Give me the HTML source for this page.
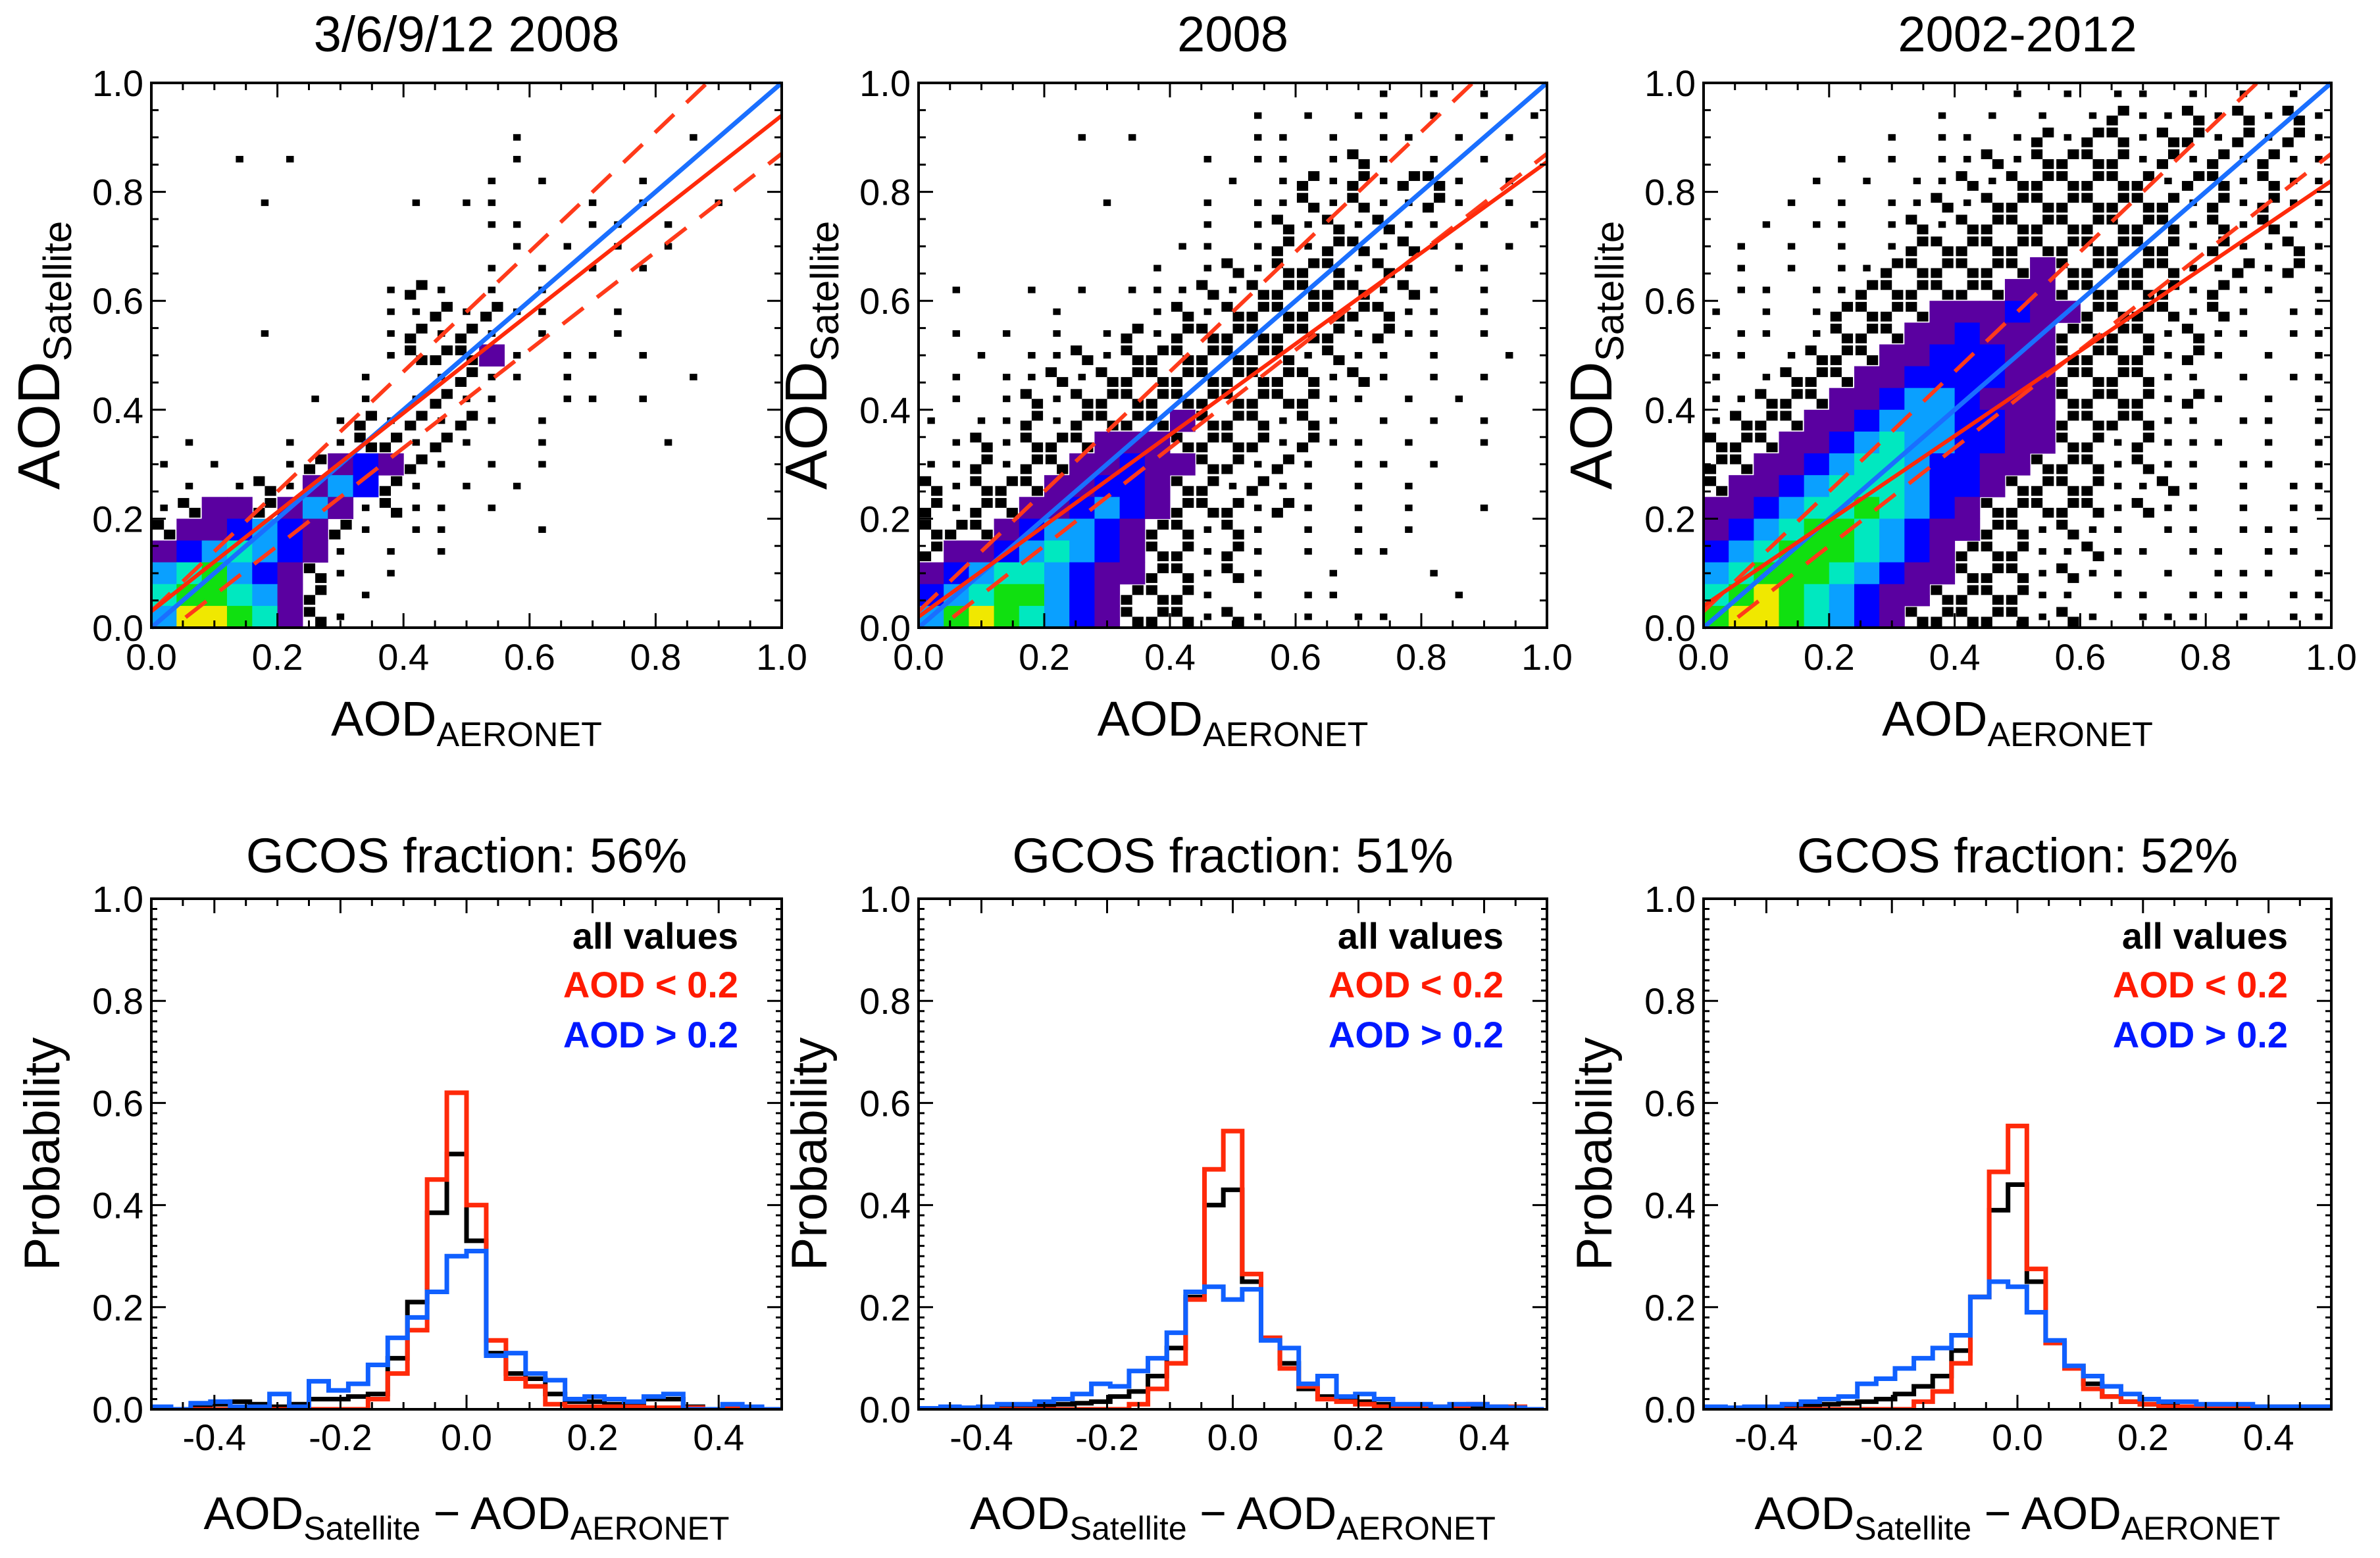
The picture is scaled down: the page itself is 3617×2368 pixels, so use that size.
<!DOCTYPE html>
<html><head><meta charset="utf-8"><style>
html,body{margin:0;padding:0;background:#fff}
svg{display:block}
text{font-family:"Liberation Sans",sans-serif;fill:#000}
</style></head><body>
<svg id="fig" width="3617" height="2368" viewBox="0 0 3617 2368" xmlns="http://www.w3.org/2000/svg"></svg>
<script>
// ---------- DATA ----------
const scatterTitles = ["3/6/9/12 2008", "2008", "2002-2012"];
const histTitles = ["GCOS fraction: 56%", "GCOS fraction: 51%", "GCOS fraction: 52%"];
const scatterTicks = [0.0, 0.2, 0.4, 0.6, 0.8, 1.0];
const scatterTickLabels = ["0.0", "0.2", "0.4", "0.6", "0.8", "1.0"];
const histXTicks = [-0.4, -0.2, 0.0, 0.2, 0.4];
const histXTickLabels = ["-0.4", "-0.2", "0.0", "0.2", "0.4"];
const histYTicks = [0.0, 0.2, 0.4, 0.6, 0.8, 1.0];
const histYTickLabels = ["0.0", "0.2", "0.4", "0.6", "0.8", "1.0"];
const fitIntercept = [0.03, 0.02, 0.04];
const fitAtOne = [0.94, 0.855, 0.82];
const envSlopeUp = 1.1, envSlopeLo = 0.9, envOffset = 0.03;

// density grids (rows top->bottom, 25 cols of 0.04), levels 0..7, '.' sparse
const densityLeft = [
"0000000000000000000000000",
"0000000000000000000000000",
"00000000000000.000000.000",
"000.0.00000000.0000000000",
"0000000000000.0.000.00000",
"0000.00000.0..000.0.00.00",
"0000000000000..00..0.0000",
"00000000000000.0.0.0.0000",
"0000000000000.0.0.0.00000",
"000000000.1.0.0.000000000",
"000000000..1.1..00.000000",
"0000.0000.1.1.0.00.000000",
"000000000.1112.0..0.00000",
"00000000.00.1..0.0000.000",
"000000.0.0.1..00..0.00000",
"0000000.1.1.1.0.000000000",
"0.000.0.11.1.00.0000.0000",
".0.00.12321.0.0.000000000",
"0.0.1.2431.0.0.0000000000",
".1221242.1..0.00000000000",
"12234321.0..000.000000000",
"2345432.0.0.0000000000000",
"4564321.0.000000000000000",
"56654210.0000000000000000",
"4776521.00000000000000000"];
const densityMid = [
"000000000000000000.0.0.00",
"0000000000000.0.0..0.0.0.",
"000000.0.0000..0.0..0.0.0",
"00000000000.0..0.1.0.0.00",
"000000000000.0.1.1.11.0.0",
"0000000.000.0..1.1..1.0.0",
"00000000000.0.1.1.1..0.0.",
"0000000000..0.1.11.1..0.0",
"000000000.0.1.111.1.0..00",
"0.00.0.0...1.11111.1.0.00",
"00000.000.1.1111111..0.00",
"0.0.0.0.1.1111111.1..0.00",
"00.0..1.1111111.1..0.00.0",
"0.0..1.111111111.1.0.0.00",
"0.0.1.1111111111..0.0.000",
".0..1.11112111.1.0.0.0.00",
"0.1.1112221111.1..0.00.00",
"..1.112232211.1.0..0.0000",
"1.1112233211.1..0.0.00000",
"1.11223432111.1.0.0.00.00",
"11123443211.1.0.0.0.00000",
"12234543211.1.0.0..000000",
"23455432211.1.00.000.0000",
"34566432111.0.0..0000.000",
"46765432111.1.0.0..000000"];
const densityRight = [
"000000000000.0.0..0.0.0.0",
"000000000.0.0.0.1..1.1.1.",
"0000000.0..0.1.11.11.1.1.",
"00000.0.0..1.1111.1.1.1..",
"0000.0.0..1.111111.11.1..",
"000.0.0..1.11111111.1.1..",
"00.0..0.1.111111111.1.1..",
"0.0.0.0.11111111111.1..1.",
"0.0.0..111111211111..1.1.",
"0..0..1111112211111.1..0.",
".0.0.11112223221111.1.0..",
"0..0.1112232221111.1..0..",
"..0.11122333221111.1.0.0.",
".0.111223333221111..0.0..",
"..1112234432221111.1.0.0.",
".11122344433221111..0..0.",
"1112234544332211.1...0.0.",
"1122345543322111.1..0..0.",
"1223455543321111..1.0.0..",
"2234556543211111.1..0.0..",
"2345665432211.1..0..0...0",
"3456665432111..1..0..0..0",
"4566654322111.1..0.0...0.",
"5676543221111..0..0...0..",
"6776543211111.1.0...0.0.."];

// histograms
const histLeftBinStart = -0.5, histLeftBinWidth = 0.03125;
const histLeftAll  = [0,0,0.005,0.01,0.015,0.01,0.005,0.01,0.02,0.02,0.025,0.03,0.10,0.21,0.385,0.50,0.33,0.11,0.07,0.06,0.03,0.015,0.015,0.01,0.01,0.02,0.02,0.005,0,0.005,0,0];
const histLeftLow  = [0,0,0,0,0,0,0,0,0,0,0,0.02,0.07,0.155,0.45,0.62,0.40,0.135,0.06,0.045,0.01,0.005,0.005,0.005,0.005,0.003,0.003,0.003,0,0.005,0.003,0];
const histLeftHigh = [0.005,0,0.012,0.015,0.005,0.005,0.03,0.005,0.055,0.037,0.05,0.087,0.14,0.18,0.23,0.30,0.31,0.105,0.11,0.07,0.057,0.02,0.025,0.02,0.015,0.025,0.03,0,0,0.01,0.005,0];
const histBinStart = -0.495, histBinWidth = 0.03;
const histMidAll  = [0,0,0,0.002,0.005,0.005,0.008,0.01,0.012,0.015,0.025,0.035,0.065,0.12,0.22,0.40,0.43,0.25,0.14,0.09,0.04,0.025,0.02,0.015,0.01,0.005,0.005,0.005,0.005,0.005,0.005,0.003,0];
const histMidLow  = [0,0,0,0,0,0,0,0,0,0,0,0.01,0.04,0.09,0.215,0.47,0.545,0.265,0.14,0.08,0.045,0.02,0.015,0.01,0.005,0.005,0.005,0.005,0.005,0.01,0.005,0.005,0];
const histMidHigh = [0.002,0.005,0.003,0.005,0.01,0.01,0.015,0.02,0.03,0.05,0.045,0.075,0.10,0.15,0.23,0.24,0.215,0.235,0.135,0.12,0.05,0.065,0.025,0.03,0.02,0.01,0.01,0.005,0.01,0.01,0.005,0.003,0];
const histRightAll  = [0,0,0.002,0.003,0.005,0.008,0.01,0.012,0.015,0.02,0.03,0.045,0.065,0.115,0.22,0.39,0.44,0.25,0.13,0.085,0.05,0.025,0.015,0.01,0.008,0.005,0.005,0.005,0.005,0.005,0.005,0.005,0.005];
const histRightLow  = [0,0,0,0,0,0,0,0,0,0,0,0.015,0.035,0.09,0.22,0.465,0.555,0.275,0.13,0.08,0.04,0.025,0.015,0.01,0.005,0.005,0.003,0.003,0.003,0.003,0.003,0.003,0.003];
const histRightHigh = [0.005,0.003,0.005,0.005,0.01,0.015,0.02,0.025,0.05,0.06,0.08,0.10,0.12,0.145,0.22,0.25,0.24,0.19,0.135,0.085,0.065,0.045,0.03,0.02,0.015,0.015,0.01,0.01,0.01,0.005,0.005,0.005,0.005];

// ---------- DRAW ----------
const NS = "http://www.w3.org/2000/svg";
const svg = document.getElementById("fig");
function el(tag, attrs, parent) {
  const e = document.createElementNS(NS, tag);
  for (const k in attrs) e.setAttribute(k, attrs[k]);
  (parent || svg).appendChild(e);
  return e;
}
const panelX = [[230,1188],[1396,2351],[2589,3543]];
const topY = [126, 954];
const botY = [1366, 2142];
const levelColors = ["none","#000000","#5a00a0","#0000ff","#0aa0ff","#00e8c0","#10e010","#f0e800"];
const densities = [densityLeft, densityMid, densityRight];
const histSets = [
  [histLeftAll, histLeftLow, histLeftHigh, histLeftBinStart, histLeftBinWidth],
  [histMidAll, histMidLow, histMidHigh, histBinStart, histBinWidth],
  [histRightAll, histRightLow, histRightHigh, histBinStart, histBinWidth]];

function addText(str, attrs, name, parent) {
  const t = el("text", attrs, parent);
  t.textContent = str;
  
  
  return t;
}
function subText(parts, attrs, name) {
  const t = el("text", attrs);
  
  
  parts.forEach(p => {
    const s = el("tspan", {}, t);
    if (p.sub) { s.setAttribute("font-size", p.sub); s.setAttribute("dy", p.dy); }
    else if (p.dy) { s.setAttribute("dy", p.dy); }
    s.textContent = p.t;
  });
  return t;
}

for (let p = 0; p < 3; p++) {
  const [L, R] = panelX[p];
  const W = R - L;
  const cx = (L + R) / 2;
  // ---------- scatter panel ----------
  {
    const [T, B] = topY;
    const H = B - T;
    const xs = v => L + v * W;
    const ys = v => B - v * H;
    const g = el("g", {});
    
    
    const clip = el("clipPath", {id: "cs" + p});
    el("rect", {x: L, y: T, width: W, height: H}, clip);
    const dg = el("g", {"clip-path": "url(#cs" + p + ")"}, g);
    
    
    const grid = densities[p];
    const nr = grid.length;
    grid.forEach((row, r) => {
      const nc = row.length;
      for (let c = 0; c < nc; c++) {
        const ch = row[c];
        if (ch === "0") continue;
        const x0 = xs(c / nc), x1 = xs((c + 1) / nc);
        const y0 = ys(1 - r / nr), y1 = ys(1 - (r + 1) / nr);
        const cw = x1 - x0, chh = y1 - y0;
        if (ch === ".") {
          const w = cw * 0.3, h = chh * 0.3;
          const rc = el("rect", {x: (x0 + x1) / 2 - w / 2, y: (y0 + y1) / 2 - h / 2, width: w, height: h, fill: "#000"}, dg);
          
          
        } else if (ch === "1") {
          const pts = ((r + c) % 2 === 0) ? [[0.05, 0.05], [0.5, 0.5]] : [[0.5, 0.05], [0.05, 0.5]];
          pts.forEach(([fx, fy]) => {
            const rc = el("rect", {x: x0 + fx * cw, y: y0 + fy * chh, width: cw * 0.45, height: chh * 0.45, fill: "#000"}, dg);
            
            
          });
        } else {
          const rc = el("rect", {x: x0, y: y0, width: cw + 0.5, height: chh + 0.5, fill: levelColors[+ch]}, dg);
          
          
        }
      }
    });
    const eu = el("line", {x1: xs(0), y1: ys(envOffset), x2: xs(1), y2: ys(envSlopeUp + envOffset), stroke: "#ff3a1a", "stroke-width": 6, "stroke-dasharray": "40 26", "clip-path": "url(#cs" + p + ")"}, g);
    
    
    const elo = el("line", {x1: xs(0), y1: ys(-envOffset), x2: xs(1), y2: ys(envSlopeLo - envOffset), stroke: "#ff3a1a", "stroke-width": 6, "stroke-dasharray": "40 26", "clip-path": "url(#cs" + p + ")"}, g);
    
    
    const oneone = el("line", {x1: xs(0), y1: ys(0), x2: xs(1), y2: ys(1), stroke: "#1a6fff", "stroke-width": 7}, g);
    
    
    const fit = el("line", {x1: xs(0), y1: ys(fitIntercept[p]), x2: xs(1), y2: ys(fitAtOne[p]), stroke: "#ff2a0a", "stroke-width": 6}, g);
    
    
    const fr = el("rect", {x: L, y: T, width: W, height: H, fill: "none", stroke: "#000", "stroke-width": 4}, g);
    
    
    let d = "";
    for (let i = 0; i <= 20; i++) {
      const v = i * 0.05, len = (i % 4 === 0) ? 22 : 11;
      d += `M${xs(v)},${B}v${-len}M${xs(v)},${T}v${len}M${L},${ys(v)}h${len}M${R},${ys(v)}h${-len}`;
    }
    const tk = el("path", {d: d, stroke: "#000", "stroke-width": 3, fill: "none"}, g);
    
    
    scatterTicks.forEach((v, i) => {
      addText(scatterTickLabels[i], {x: xs(v), y: 1018, "font-size": 56, "text-anchor": "middle"}, "x-tick-label", g);
      addText(scatterTickLabels[i], {x: L - 12, y: ys(v) + 20, "font-size": 56, "text-anchor": "end"}, "y-tick-label", g);
    });
    addText(scatterTitles[p], {x: cx, y: 78, "font-size": 76, "text-anchor": "middle"}, "scatter-title", g);
    subText([{t: "AOD"}, {t: "AERONET", sub: 52, dy: 16}], {x: cx, y: 1118, "font-size": 74, "text-anchor": "middle"}, "x-axis-title");
    subText([{t: "AOD"}, {t: "Satellite", sub: 60, dy: 18}], {x: 0, y: 0, "font-size": 90, "text-anchor": "middle", transform: `translate(${L - 140},${(T + B) / 2}) rotate(-90)`}, "y-axis-title");
  }
  // ---------- histogram panel ----------
  {
    const [T, B] = botY;
    const H = B - T;
    const xs = v => L + (v + 0.5) * W;
    const ys = v => B - v * H;
    const g = el("g", {});
    
    
    const clip = el("clipPath", {id: "ch" + p});
    el("rect", {x: L, y: T, width: W, height: H}, clip);
    const [hAll, hLow, hHigh, bs, bw] = histSets[p];
    const series = [[hAll, "#000000", "hist-all-values"], [hLow, "#ff2a0a", "hist-aod-below-0.2"], [hHigh, "#1060ff", "hist-aod-above-0.2"]];
    series.forEach(([vals, col, nm]) => {
      let d = `M${xs(bs)},${ys(0)}`;
      vals.forEach((v, i) => {
        d += `L${xs(bs + i * bw)},${ys(v)}L${xs(bs + (i + 1) * bw)},${ys(v)}`;
      });
      d += `L${xs(bs + vals.length * bw)},${ys(0)}`;
      const path = el("path", {d: d, fill: "none", stroke: col, "stroke-width": 7, "clip-path": "url(#ch" + p + ")"}, g);
      
      
    });
    const fr = el("rect", {x: L, y: T, width: W, height: H, fill: "none", stroke: "#000", "stroke-width": 4}, g);
    
    
    let d = "";
    for (let i = 0; i <= 20; i++) {
      const v = -0.5 + i * 0.05, len = (i % 4 === 2) ? 22 : 11;
      d += `M${xs(v)},${B}v${-len}M${xs(v)},${T}v${len}`;
    }
    for (let i = 0; i <= 50; i++) {
      const v = i * 0.02, len = (i % 10 === 0) ? 22 : 9;
      d += `M${L},${ys(v)}h${len}M${R},${ys(v)}h${-len}`;
    }
    const tk = el("path", {d: d, stroke: "#000", "stroke-width": 3, fill: "none"}, g);
    
    
    histXTicks.forEach((v, i) => addText(histXTickLabels[i], {x: xs(v), y: 2204, "font-size": 56, "text-anchor": "middle"}, "x-tick-label", g));
    histYTicks.forEach((v, i) => addText(histYTickLabels[i], {x: L - 12, y: ys(v) + 20, "font-size": 56, "text-anchor": "end"}, "y-tick-label", g));
    addText(histTitles[p], {x: cx, y: 1326, "font-size": 74, "text-anchor": "middle"}, "histogram-title", g);
    addText("all values", {x: R - 66, y: 1442, "font-size": 56, "font-weight": "bold", "text-anchor": "end"}, "legend-entry-all-values", g);
    addText("AOD < 0.2", {x: R - 66, y: 1516, "font-size": 56, "font-weight": "bold", "text-anchor": "end", style: "fill:#ff1a00"}, "legend-entry-aod-below", g);
    addText("AOD > 0.2", {x: R - 66, y: 1592, "font-size": 56, "font-weight": "bold", "text-anchor": "end", style: "fill:#0018ff"}, "legend-entry-aod-above", g);
    addText("Probability", {x: 0, y: 0, "font-size": 76, "text-anchor": "middle", transform: `translate(${L - 140},${(T + B) / 2}) rotate(-90)`}, "y-axis-title", g);
    subText([{t: "AOD"}, {t: "Satellite", sub: 50, dy: 16}, {t: " \u2212 AOD", dy: -16}, {t: "AERONET", sub: 50, dy: 16}], {x: cx, y: 2324, "font-size": 70, "text-anchor": "middle"}, "x-axis-title");
  }
}
</script>
</body></html>
